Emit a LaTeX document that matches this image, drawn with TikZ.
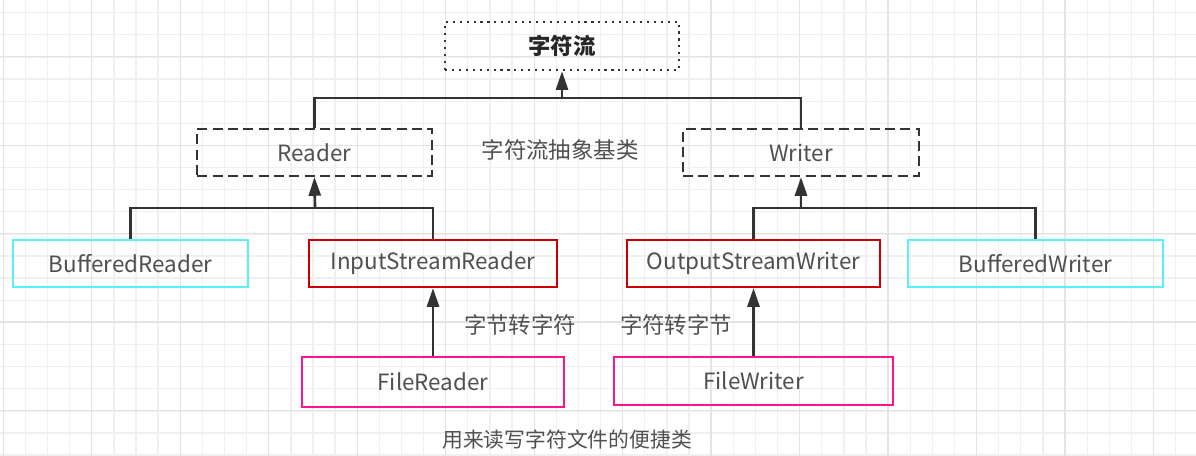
\documentclass[tikz,border=0pt]{standalone}
\usepackage{fontspec}
\setmainfont{Noto Sans CJK SC}
\usetikzlibrary{arrows.meta}
\definecolor{gridminor}{RGB}{240,240,240}
\definecolor{gridmajor}{RGB}{228,228,228}
\definecolor{txtgray}{RGB}{80,80,80}
\definecolor{linegray}{RGB}{51,51,51}
\definecolor{boxcyan}{RGB}{90,240,250}
\definecolor{boxred}{RGB}{204,0,0}
\definecolor{boxpink}{RGB}{255,20,140}
\begin{document}
\begin{tikzpicture}[x=0.75pt, y=-0.75pt,
            font=\fontsize{16.8pt}{20pt}\selectfont,
            box/.style={draw, line width=1.9pt, text=txtgray, minimum height=35pt, inner sep=0pt},
            abstractbox/.style={box, draw=linegray, dash pattern=on 7.5pt off 4pt},
            conn/.style={draw=linegray, line width=2pt},
            arr/.style={conn, -{Triangle[length=14pt,width=9pt]}},
            note/.style={text=txtgray}
            ]
            \fill[white] (0,0) rectangle (1196,456);
            \useasboundingbox (0,0) rectangle (1196,456);
            \foreach \i in {0,...,53} \draw[gridminor, line width=1pt] (3.3+22.12*\i,0) -- (3.3+22.12*\i,456);
            \foreach \i in {0,...,20} \draw[gridminor, line width=1pt] (0,12.7+22.12*\i) -- (1196,12.7+22.12*\i);
            \foreach \i in {0,...,13} \draw[gridmajor, line width=1pt] (3.3+88.48*\i,0) -- (3.3+88.48*\i,456);
            \foreach \i in {0,...,4} \draw[gridmajor, line width=1pt] (0,56.7+88.48*\i) -- (1196,56.7+88.48*\i);

            \node[box, draw=linegray, dash pattern=on 1.6pt off 3.6pt, minimum width=175.5pt, minimum height=36pt, text=black!85, font=\fontsize{16.8pt}{20pt}\selectfont\bfseries] (title) at (562,46) {字符流};

            \node[abstractbox, minimum width=176pt] (reader) at (314.5,152.5) {Reader};
            \node[abstractbox, minimum width=177pt] (writer) at (801,152.5) {Writer};
            \node[note] (abstractnote) at (560,150) {字符流抽象基类};

            \node[box, draw=boxcyan, minimum width=176pt] (bufreader) at (130.5,263.5) {BufferedReader};
            \node[box, draw=boxred, minimum width=186pt] (isr) at (433,263.5) {InputStreamReader};
            \node[box, draw=boxred, minimum width=190pt] (osw) at (753.5,263.5) {OutputStreamWriter};
            \node[box, draw=boxcyan, minimum width=191pt] (bufwriter) at (1035.5,263.5) {BufferedWriter};

            \node[note] (bytetochar) at (520,325) {字节转字符};
            \node[note] (chartobyte) at (676,325) {字符转字节};

            \node[box, draw=boxpink, minimum width=196.5pt, minimum height=37.5pt] (filereader) at (433,382) {FileReader};
            \node[box, draw=boxpink, minimum width=209pt, minimum height=36pt] (filewriter) at (753.5,381) {FileWriter};

            \node[note, font=\fontsize{15.6pt}{19pt}\selectfont] (filenote) at (567,440) {用来读写字符文件的便捷类};

            \coordinate (topbus) at (562,98);
            \coordinate (readerbus) at (315,208);
            \coordinate (writerbus) at (801,208);

            \draw[conn] (reader.north) |- (topbus) -| (writer.north);
            \draw[arr] (topbus) -- (title.south);
            \draw[conn] (bufreader.north) |- (readerbus) -| (isr.north);
            \draw[arr] (readerbus) -- (reader.south);
            \draw[conn] (osw.north) |- (writerbus) -| (bufwriter.north);
            \draw[arr] (writerbus) -- (writer.south);
            \draw[arr] (filereader.north) -- (isr.south);
            \draw[arr] (filewriter.north) -- (osw.south);

\end{tikzpicture}
\end{document}
